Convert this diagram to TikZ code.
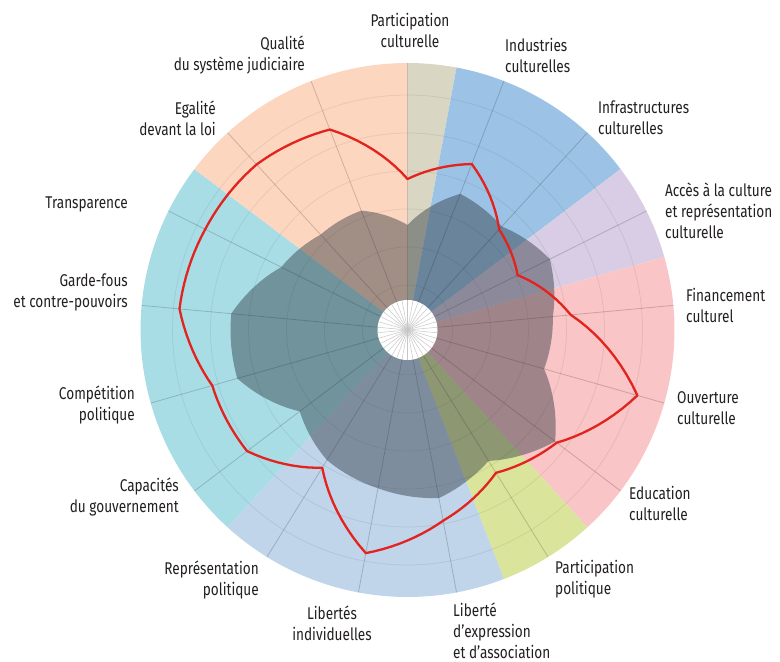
\documentclass[tikz,border=0pt]{standalone}
\usepackage{fontspec}
\setmainfont[FakeStretch=0.8]{Fira Sans}
\usetikzlibrary{positioning}

\definecolor{secbeige}{HTML}{D9D7C3}
\definecolor{secblue}{HTML}{9CC3E5}
\definecolor{seclav}{HTML}{D8CDE4}
\definecolor{secpink}{HTML}{F9C5C6}
\definecolor{secgreen}{HTML}{DAE59B}
\definecolor{secbluegray}{HTML}{C0D4EA}
\definecolor{seccyan}{HTML}{A9DDE6}
\definecolor{secpeach}{HTML}{FDD6C0}
\definecolor{scorered}{HTML}{E2231E}
\definecolor{labtext}{HTML}{231F20}

\tikzset{
  lab/.style={font=\fontsize{17}{21}\selectfont, text=labtext, inner sep=0pt},
  spoke/.style={draw=black, opacity=.18, line width=.8pt},
  ring/.style={draw=black, opacity=.07, line width=.8pt},
  ray/.style={draw=black!22, line width=.5pt},
  grayzone/.style={fill={rgb,255:red,35;green,45;blue,55}, fill opacity=.42},
  redline/.style={draw=scorered, line width=2.3pt, line join=round}
}

% one step between two axes (360/17)
\def\st{21.17647}
% radii per axis, clockwise from top, first value repeated at the end
\def\grayvals{{105,146,140,159,146,142,185,154,171,161,153,135,177,177,141,129,128,105}}
\def\redvals{{151,178,136,123,164,239,187,168,194,227,162,201,203,229,226,224,215,151}}

\begin{document}
\begin{tikzpicture}[x=1pt,y=-1pt]
  \useasboundingbox (0,0) rectangle (780,662);

  \begin{scope}[shift={(407.5,330)}]
    % coloured domains
    \foreach \a/\b/\col in {0/0.5/secbeige, 0.5/2.5/secblue, 2.5/3.5/seclav,
        3.5/6.5/secpink, 6.5/7.5/secgreen, 7.5/10.5/secbluegray,
        10.5/14.5/seccyan, 14.5/17/secpeach}
      \fill[\col] (0,0) -- (\a*\st-90:267)
        arc[start angle=\a*\st-90, end angle=\b*\st-90, radius=267] -- cycle;

    % grid
    \foreach \r in {45,83,121,159,197,235}
      \draw[ring] (0,0) circle[radius=\r];
    \foreach \k in {0,...,16}
      \draw[spoke] (\k*\st-90:30) -- (\k*\st-90:267);

    % reference profile
    \path[grayzone] (-90:105)
      \foreach \k in {0,...,16}{
        \foreach \s in {1,...,10}{
          -- ({(\k+\s/10)*\st-90}:{\grayvals[\k]+(\grayvals[\k+1]-\grayvals[\k])*\s/10})
        }
      } -- cycle;

    % country profile
    \draw[redline] (-90:151)
      \foreach \k in {0,...,16}{
        \foreach \s in {1,...,10}{
          -- ({(\k+\s/10)*\st-90}:{\redvals[\k]+(\redvals[\k+1]-\redvals[\k])*\s/10})
        }
      } -- cycle;

    % hub
    \fill[white] (0,0) circle[radius=30];
    \foreach \a in {0,...,33}
      \draw[ray] (0,0) -- (\a*\st/2-90:30);
  \end{scope}

  % axis labels
  \node[lab, align=center] (partcult) at (410,30) {Participation\\culturelle};
  \node[lab, align=left, anchor=west] (indcult) at (505,55) {Industries\\culturelles};
  \node[lab, align=left, anchor=west] (infcult) at (598,118) {Infrastructures\\culturelles};
  \node[lab, align=left, anchor=west] (acces) at (665,211) {Accès à la culture\\et représentation\\culturelle};
  \node[lab, align=left, anchor=west] (financ) at (686,305) {Financement\\culturel};
  \node[lab, align=left, anchor=west] (ouvert) at (677,408) {Ouverture\\culturelle};
  \node[lab, align=left, anchor=west] (educ) at (629,503) {Education\\culturelle};
  \node[lab, align=left, anchor=west] (partpol) at (555,579) {Participation\\politique};
  \node[lab, align=left, anchor=west] (expr) at (453,631) {Liberté\\d’expression\\et d’association};
  \node[lab, align=center] (libind) at (332,623) {Libertés\\individuelles};
  \node[lab, align=right, anchor=east] (reprpol) at (259,580) {Représentation\\politique};
  \node[lab, align=right, anchor=east] (capgouv) at (179,497) {Capacités\\du gouvernement};
  \node[lab, align=right, anchor=east] (comppol) at (135,405) {Compétition\\politique};
  \node[lab, align=right, anchor=east] (garde) at (128,292) {Garde-fous\\et contre-pouvoirs};
  \node[lab, align=right, anchor=east] (transp) at (128,204) {Transparence};
  \node[lab, align=right, anchor=east] (egal) at (216,118) {Egalité\\devant la loi};
  \node[lab, align=right, anchor=east] (qualjud) at (305,55) {Qualité\\du système judiciaire};
\end{tikzpicture}
\end{document}
